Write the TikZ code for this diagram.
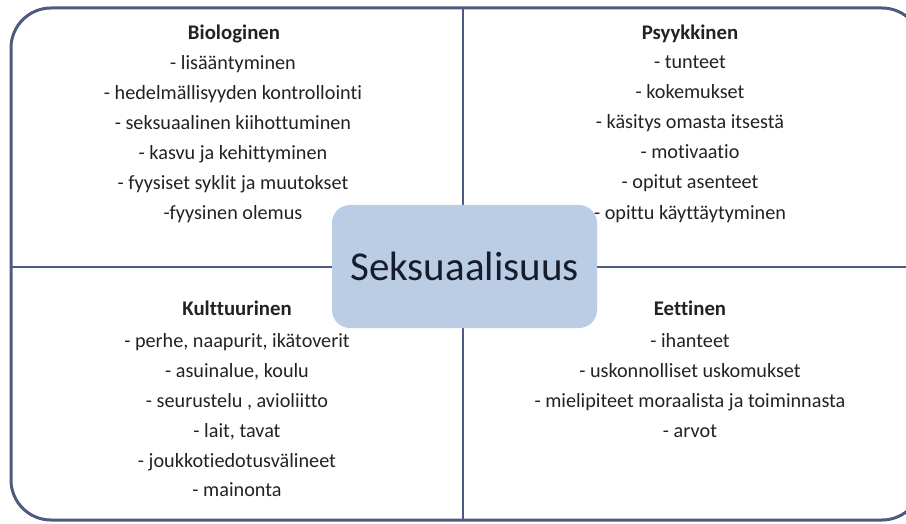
\documentclass[tikz,border=0pt]{standalone}
\usepackage{fontspec}
\setmainfont[Ligatures={NoCommon}]{Carlito}
\definecolor{frame}{RGB}{76,92,128}
\definecolor{boxfill}{RGB}{186,205,229}
\definecolor{txt}{RGB}{34,34,34}
\definecolor{bigtxt}{RGB}{22,28,44}
\tikzset{
  item/.style={anchor=base, inner sep=0pt, text=txt, font=\fontsize{20.2}{24}\selectfont},
  head/.style={anchor=base, inner sep=0pt, text=txt, font=\fontsize{20.8}{24}\selectfont\bfseries},
  centerbox/.style={draw=none, fill=boxfill, rounded corners=18pt, minimum width=265pt, minimum height=123pt, inner sep=0pt, text=bigtxt, font=\fontsize{41}{48}\selectfont},
  divider/.style={draw=frame, line width=2.4pt},
  outer/.style={draw=frame, line width=3pt, rounded corners=40pt}
}
\begin{document}
\begin{tikzpicture}[x=1pt,y=-1pt]
\useasboundingbox (0,0) rectangle (906,524);
\clip (0,0) rectangle (906,524);
% outer frame
\draw[outer] (11,8) rectangle (922,520);
% dividers
\coordinate (top) at (463,8);
\coordinate (bot) at (463,520);
\coordinate (lft) at (11,267);
\coordinate (rgt) at (922,267);
\draw[divider] (top) -- (bot);
\draw[divider] (lft) -- (rgt);
% centre box
\node[centerbox] (c) at (464.5,266.5) {Seksuaalisuus};
% Biologinen
\node[head] (bioh) at (234,40) {Biologinen};
\foreach \t [count=\i] in {- lisääntyminen, - hedelmällisyyden kontrollointi, - seksuaalinen kiihottuminen, - kasvu ja kehittyminen, - fyysiset syklit ja muutokset, -fyysinen olemus}
  \node[item] (bio\i) at (233,40+30*\i) {\t};
% Psyykkinen
\node[head] (psyh) at (690,40) {Psyykkinen};
\foreach \t [count=\i] in {- tunteet, - kokemukset, - käsitys omasta itsestä, - motivaatio, - opitut asenteet, - opittu käyttäytyminen}
  \node[item] (psy\i) at (690,39+30*\i) {\t};
% Kulttuurinen
\node[head] (kulh) at (237,315) {Kulttuurinen};
\foreach \t [count=\i] in {{- perhe, naapurit, ikätoverit}, {- asuinalue, koulu}, {- seurustelu , avioliitto}, {- lait, tavat}, - joukkotiedotusvälineet, - mainonta}
  \node[item] (kul\i) at (237,318+29.8*\i) {\t};
% Eettinen
\node[head] (eeth) at (690,315) {Eettinen};
\foreach \t [count=\i] in {- ihanteet, - uskonnolliset uskomukset, - mielipiteet moraalista ja toiminnasta, - arvot}
  \node[item] (eet\i) at (690,317+30*\i) {\t};
\end{tikzpicture}
\end{document}
